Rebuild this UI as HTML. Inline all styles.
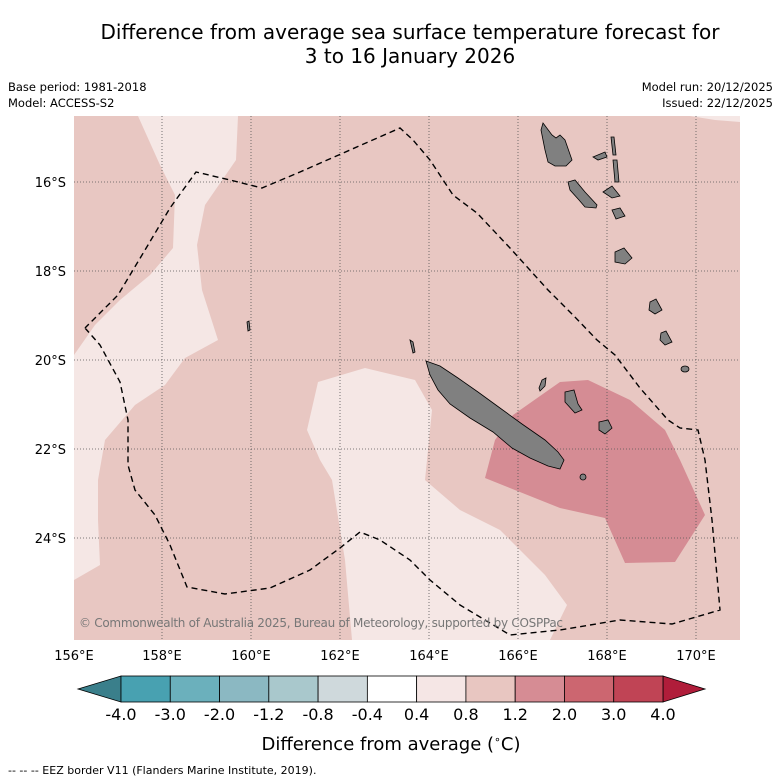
<!DOCTYPE html>
<html><head><meta charset="utf-8"><style>
body{margin:0;background:#fff;font-family:"DejaVu Sans","Liberation Sans",sans-serif}
svg{display:block}
</style></head><body>
<svg width="781" height="781" viewBox="0 0 781 781">
<text x="410" y="39" font-size="20" text-anchor="middle">Difference from average sea surface temperature forecast for</text>
<text x="410" y="63" font-size="20" text-anchor="middle">3 to 16 January 2026</text>
<text x="8" y="91" font-size="11.5">Base period: 1981-2018</text>
<text x="8" y="107" font-size="11.5">Model: ACCESS-S2</text>
<text x="773" y="91" font-size="11.5" text-anchor="end">Model run: 20/12/2025</text>
<text x="773" y="107" font-size="11.5" text-anchor="end">Issued: 22/12/2025</text>
<defs><clipPath id="mc"><rect x="74" y="116" width="666" height="524"/></clipPath></defs>
<g clip-path="url(#mc)">
<rect x="74" y="116" width="666" height="524" fill="#e8c7c2"/>
<polygon fill="#f5e7e5" points="138,116 238,116 236,160 205,205 197,245 202,290 218,340 185,358 165,385 135,405 105,440 98,480 98,520 100,565 74,580 74,355 95,325 120,300 150,275 173,248 175,195 160,165"/>
<polygon fill="#f5e7e5" points="318,382 365,368 415,380 432,410 428,450 425,480 460,510 500,530 545,575 567,605 550,640 352,640 345,560 332,480 320,460 307,430"/>
<polygon fill="#f5e7e5" points="690,116 740,116 740,122 715,120"/>
<polygon fill="#d58c94" points="513,415 560,382 588,380 630,400 665,430 680,460 705,515 675,562 625,563 605,518 560,508 485,478 495,440"/>
<g stroke="#555" stroke-width="0.8" stroke-dasharray="1,2" fill="none">
<line x1="162" y1="116" x2="162" y2="640"/><line x1="251" y1="116" x2="251" y2="640"/><line x1="340" y1="116" x2="340" y2="640"/><line x1="429" y1="116" x2="429" y2="640"/><line x1="518" y1="116" x2="518" y2="640"/><line x1="607" y1="116" x2="607" y2="640"/><line x1="696" y1="116" x2="696" y2="640"/>
<line x1="74" y1="182" x2="740" y2="182"/><line x1="74" y1="271" x2="740" y2="271"/><line x1="74" y1="360" x2="740" y2="360"/><line x1="74" y1="449" x2="740" y2="449"/><line x1="74" y1="538" x2="740" y2="538"/>
</g>
<g fill="#808080" stroke="#000" stroke-width="0.8">
<polygon points="426,361 440,366 458,378 478,392 500,408 522,424 545,440 558,452 564,460 560,469 548,466 530,458 512,448 493,432 470,418 450,404 438,390 430,375"/>
<polygon points="543,123 552,135 556,138 560,135 565,140 572,160 566,166 555,166 548,162 545,150 541,130"/>
<polygon points="568,182 575,180 585,192 597,205 596,208 585,207 579,200 570,190"/>
<polygon points="593,157 605,152 607,157 598,160"/>
<polygon points="611,137 614,137 616,155 613,155"/>
<polygon points="613,160 617,160 619,182 615,182"/>
<polygon points="603,192 612,186 620,196 612,198"/>
<polygon points="612,210 620,208 625,216 616,219"/>
<polygon points="615,252 624,248 632,258 625,264 615,262"/>
<polygon points="650,302 656,299 662,310 655,314 649,310"/>
<polygon points="661,333 666,331 672,342 665,345 660,340"/>
<ellipse cx="685" cy="369" rx="4" ry="3"/>
<polygon points="565,392 574,390 578,404 582,410 575,413 565,402"/>
<polygon points="599,422 608,420 612,428 605,434 599,430"/>
<ellipse cx="583" cy="477" rx="3" ry="3"/>
<polygon points="539,388 542,380 546,378 545,386 540,391"/>
<polygon points="410,340 413,342 415,352 413,353"/>
<polygon points="247,322 249,321 250,330 248,331"/>
</g>
<polyline fill="none" stroke="#000" stroke-width="1.4" stroke-dasharray="6,4" points="85,328 100,345 120,382 128,420 128,465 135,490 155,515 170,545 187,587 225,594 270,588 310,570 340,548 360,532 380,540 410,560 430,580 460,605 510,635 560,630 620,620 672,624 720,610 712,520 705,460 698,430 680,428 668,420 640,388 615,355 597,340 573,315 548,290 510,248 477,213 453,195 430,160 413,140 400,128 350,150 300,172 262,188 230,180 196,172 170,208 148,245 118,295 85,328"/>
<text x="79" y="627" font-size="12" fill="#777" textLength="484">© Commonwealth of Australia 2025, Bureau of Meteorology, supported by COSPPac</text>
</g>
<g font-size="13">
<text x="74" y="660" text-anchor="middle">156°E</text><text x="162" y="660" text-anchor="middle">158°E</text><text x="251" y="660" text-anchor="middle">160°E</text><text x="340" y="660" text-anchor="middle">162°E</text><text x="429" y="660" text-anchor="middle">164°E</text><text x="518" y="660" text-anchor="middle">166°E</text><text x="607" y="660" text-anchor="middle">168°E</text><text x="696" y="660" text-anchor="middle">170°E</text>
</g>
<g font-size="13" text-anchor="end">
<text x="66" y="187">16°S</text><text x="66" y="276">18°S</text><text x="66" y="365">20°S</text><text x="66" y="454">22°S</text><text x="66" y="543">24°S</text>
</g>
<g id="cbar"></g>
<text x="391" y="750" font-size="18" text-anchor="middle">Difference from average (<tspan font-size="11" dy="-7">∘</tspan><tspan dy="7">C)</tspan></text>
<text x="8" y="774" font-size="11">--  --  -- EEZ border V11 (Flanders Marine Institute, 2019).</text>
</svg>
<script>
const binLabels=["-4.0","-3.0","-2.0","-1.2","-0.8","-0.4","0.4","0.8","1.2","2.0","3.0","4.0"];
const binColors=["#48a1b1","#6bb0bc","#8bb8c2","#a9c8cc","#cfd9dc","#ffffff","#f5e6e5","#e8c6c1","#d68c94","#cc6670","#c04455"];
const extColors=["#3a7f8b","#b01d3a"];
const ns="http://www.w3.org/2000/svg";
const g=document.getElementById('cbar');
const x0=121,x1=663,y0=676,y1=702,bw=(x1-x0)/binColors.length;
function mk(t,a){const e=document.createElementNS(ns,t);for(const k in a)e.setAttribute(k,a[k]);g.appendChild(e);return e;}
let l=mk('polygon',{points:`78,689 ${x0},${y0} ${x0},${y1}`,fill:extColors[0],stroke:'#000','stroke-width':0.8});


let r=mk('polygon',{points:`705,689 ${x1},${y0} ${x1},${y1}`,fill:extColors[1],stroke:'#000','stroke-width':0.8});


binColors.forEach((c,i)=>{
 const b=mk('rect',{x:x0+i*bw,y:y0,width:bw,height:y1-y0,fill:c,stroke:'#000','stroke-width':0.8});
 
 
});
binLabels.forEach((t,i)=>{
 const e=mk('text',{x:x0+i*bw,y:720,'font-size':16,'text-anchor':'middle'});
 e.textContent=t;
 
 
});
</script>
</body></html>
